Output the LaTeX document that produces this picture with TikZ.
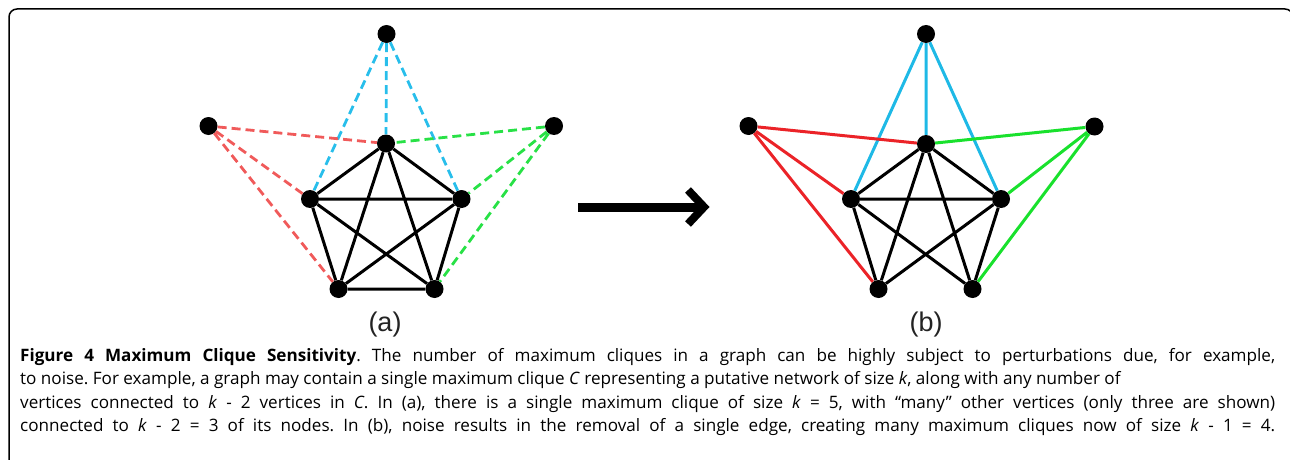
\documentclass[tikz,border=0pt]{standalone}
\usepackage{fontspec}
\setmainfont{Open Sans}
\newfontfamily\labelfont{Liberation Sans}
\usetikzlibrary{calc}
\definecolor{cyanE}{RGB}{30,185,230}
\definecolor{redE}{RGB}{235,35,40}
\definecolor{greenE}{RGB}{25,225,45}
\definecolor{redD}{RGB}{240,90,90}
\definecolor{greenD}{RGB}{40,225,70}
\definecolor{cyanD}{RGB}{40,190,235}
\definecolor{labgray}{RGB}{35,35,35}
\frenchspacing
\begin{document}
\begin{tikzpicture}[x=1pt,y=-1pt,
  vert/.style={circle,fill=black,inner sep=0pt,minimum size=18pt},
  cl/.style={line width=3pt,black},
  dsh/.style={line width=2.8pt,dash pattern=on 9pt off 5pt},
  sol/.style={line width=3pt},
  capline/.style={anchor=base west,inner sep=0pt,font=\fontsize{17.1}{20}\selectfont},
  sublab/.style={anchor=base,inner sep=0pt,text=labgray,font=\labelfont\fontsize{27}{30}\selectfont}]
\useasboundingbox (0,0) rectangle (1290,460);
\clip (0,0) rectangle (1290,460);
% frame
\draw[line width=1.5pt,rounded corners=8pt] (9,470) -- (9,9) -- (1293,9) -- (1293,470);

% ---------- graph (a)
\node[vert] (aT) at (386.5,34) {};
\node[vert] (aL) at (208.5,126) {};
\node[vert] (aR) at (554,126) {};
\node[vert] (a1) at (386,143.5) {};
\node[vert] (a2) at (310,199) {};
\node[vert] (a3) at (461.5,199) {};
\node[vert] (a4) at (338.5,289) {};
\node[vert] (a5) at (434.5,289) {};
\draw[dsh,cyanD] (aT) -- (a1) (aT) -- (a2) (aT) -- (a3);
\draw[dsh,redD] (aL) -- (a1) (aL) -- (a2) (aL) -- (a4);
\draw[dsh,greenD] (aR) -- (a1) (aR) -- (a3) (aR) -- (a5);
\draw[cl] (a1) -- (a2) (a1) -- (a3) (a1) -- (a4) (a1) -- (a5)
          (a2) -- (a3) (a2) -- (a4) (a2) -- (a5)
          (a3) -- (a4) (a3) -- (a5) (a4) -- (a5);
\node[sublab] (la) at (385,331) {(a)};

% ---------- arrow
\coordinate (arS) at (578,207);
\coordinate (arE) at (704,207);
\coordinate (arU) at (688,190);
\coordinate (arD) at (688,224);
\draw[line width=9pt] (arS) -- ($(arE)+(-4,0)$);
\draw[line width=8pt,miter limit=10] (arU) -- (arE) -- (arD);

% ---------- graph (b)
\node[vert] (bT) at (926,34) {};
\node[vert] (bL) at (748.5,126) {};
\node[vert] (bR) at (1094.5,126.5) {};
\node[vert] (b1) at (926,144) {};
\node[vert] (b2) at (851,199) {};
\node[vert] (b3) at (1001,199) {};
\node[vert] (b4) at (878.5,289) {};
\node[vert] (b5) at (972.5,289) {};
\draw[sol,cyanE] (bT) -- (b1) (bT) -- (b2) (bT) -- (b3);
\draw[sol,redE] (bL) -- (b1) (bL) -- (b2) (bL) -- (b4);
\draw[sol,greenE] (bR) -- (b1) (bR) -- (b3) (bR) -- (b5);
\draw[cl] (b1) -- (b2) (b1) -- (b3) (b1) -- (b4) (b1) -- (b5)
          (b2) -- (b3) (b2) -- (b4) (b2) -- (b5)
          (b3) -- (b4) (b3) -- (b5);
\node[sublab] (lb) at (926,331) {(b)};

% ---------- caption
\node[capline] (c1) at (20,361) {\makebox[1255pt][s]{\textbf{Figure 4 Maximum Clique Sensitivity}. The number of maximum cliques in a graph can be highly subject to perturbations due, for example,}};
\node[capline] (c2) at (20,384.5) {to noise. For example, a graph may contain a single maximum clique \textit{C} representing a putative network of size \textit{k}, along with any number of};
\node[capline] (c3) at (20,408) {\makebox[1255pt][s]{vertices connected to \textit{k} - 2 vertices in \textit{C}. In (a), there is a single maximum clique of size \textit{k} = 5, with “many” other vertices (only three are shown)}};
\node[capline] (c4) at (20,431.5) {\makebox[1255pt][s]{connected to \textit{k} - 2 = 3 of its nodes. In (b), noise results in the removal of a single edge, creating many maximum cliques now of size \textit{k} - 1 = 4.}};
\end{tikzpicture}
\end{document}
